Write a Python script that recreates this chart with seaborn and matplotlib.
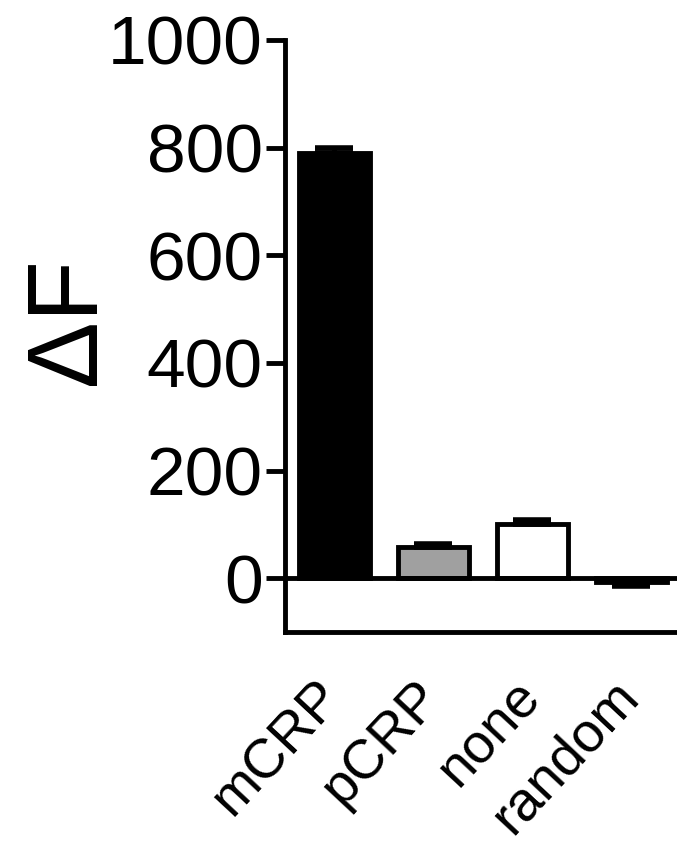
import matplotlib
matplotlib.use("Agg")
import matplotlib.pyplot as plt
import matplotlib.transforms as mtransforms
import seaborn as sns
import numpy as np
import pandas as pd

categories = ["mCRP", "pCRP", "none", "random"]
values = [790, 58, 101, -8]
errors = [10, 6, 7, 6]
colors = ["#000000", "#a0a0a0", "#ffffff", "#ffffff"]
yticks = [0, 200, 400, 600, 800, 1000]

sns.set_theme(style="ticks")
plt.rcParams['font.family'] = ['Liberation Sans', 'DejaVu Sans']
plt.rcParams['text.color'] = 'black'
plt.rcParams['axes.labelcolor'] = 'black'
plt.rcParams['xtick.color'] = 'black'
plt.rcParams['ytick.color'] = 'black'
plt.rcParams['axes.edgecolor'] = 'black'

fig = plt.figure(figsize=(6.77, 8.44), dpi=100)
ax = fig.add_axes([285/677, 1 - 632/844, 1 - 285/677, (632 - 40)/844])

df = pd.DataFrame({"cat": categories, "val": values})
sns.barplot(data=df, x="cat", y="val", hue="cat", palette=colors, legend=False,
            edgecolor="black", linewidth=3.5, width=0.72, errorbar=None, ax=ax)

x = np.arange(len(categories))
vals = np.array(values)
errs = np.array(errors)
lower = np.where(vals < 0, errs, 0)
upper = np.where(vals >= 0, errs, 0)
ax.errorbar(x, vals, yerr=[lower, upper], fmt="none", ecolor="black",
            elinewidth=3.5, capsize=14, capthick=4, zorder=5)

ax.axhline(0, color="black", lw=3.5, zorder=4)

ax.set_ylim(-100, 1000)
ax.set_xlim(-0.5, 3.46)
ax.set_yticks(yticks)
ax.set_yticklabels([str(t) for t in yticks], fontsize=50, color="black")
ax.set_xticks(x)
ax.tick_params(axis="y", length=14, width=3.5, pad=2)
ax.tick_params(axis="x", length=0, pad=28)
ax.set_xticklabels(categories, fontsize=40, rotation=47, ha="right",
                   rotation_mode="anchor", color="black")
offset = mtransforms.ScaledTranslation(-20/100, 0, fig.dpi_scale_trans)
for lab in ax.get_xticklabels():
    lab.set_transform(lab.get_transform() + offset)
ax.set_xlabel("")
ax.set_ylabel("ΔF", fontsize=72, color="black")
ax.yaxis.set_label_coords(-0.43, 0.525)

sns.despine(ax=ax, top=True, right=True)
ax.spines["left"].set_linewidth(3.5)
ax.spines["bottom"].set_linewidth(3.5)

fig.savefig("out.png", dpi=100)
